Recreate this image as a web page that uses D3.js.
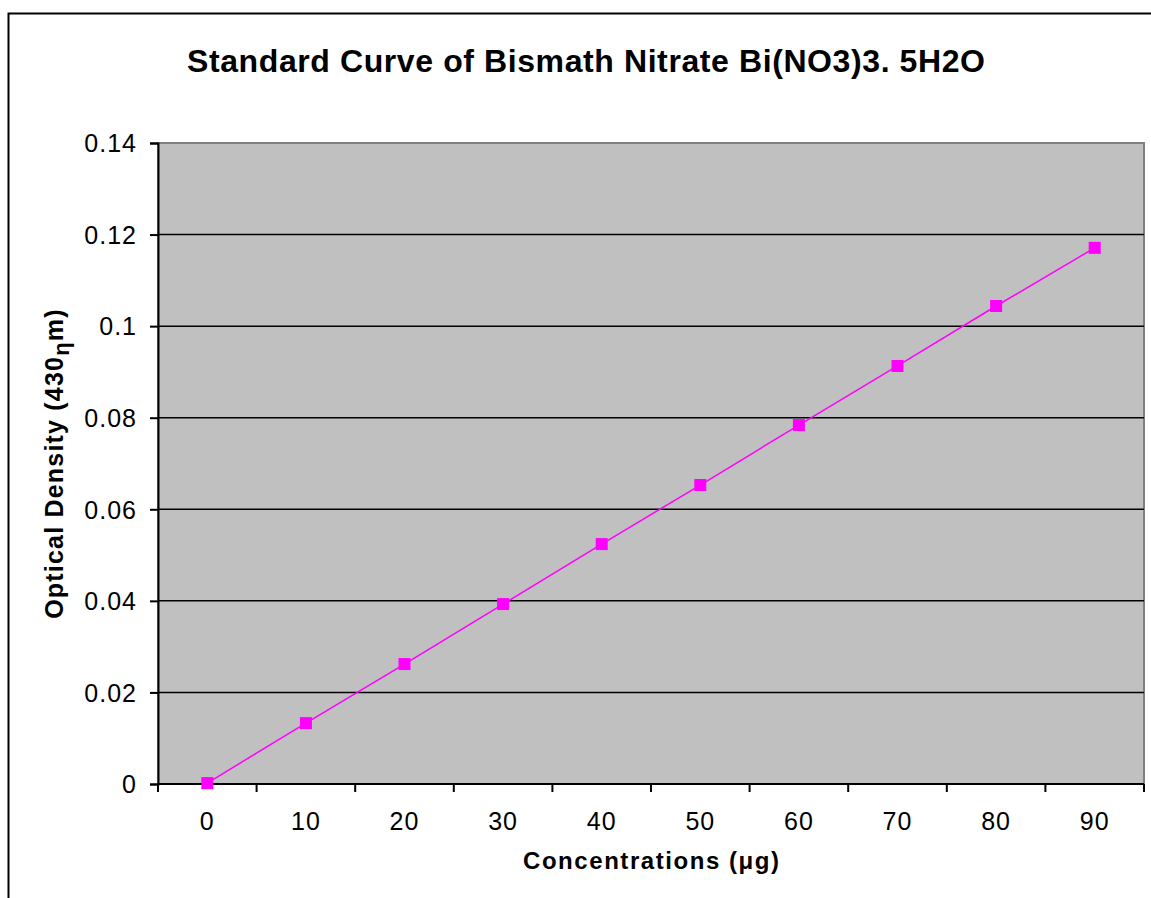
<!DOCTYPE html>
<html>
<head>
<meta charset="utf-8">
<script src="https://cdn.jsdelivr.net/npm/d3@7"></script>
<style>
	body { margin: 0; background: #fff; }
	svg { display: block; font-family: "Liberation Sans", Arial, sans-serif; }
</style>
</head>
<body>
<svg id="chart" width="1151" height="898"></svg>
<script>
var categories = ['0', '10', '20', '30', '40', '50', '60', '70', '80', '90'];
var density = [0.0002, 0.0133, 0.0262, 0.0393, 0.0524, 0.0653, 0.0784, 0.0913, 0.1044, 0.1171];
var yTicks = [0, 0.02, 0.04, 0.06, 0.08, 0.1, 0.12, 0.14];

var plot = {left: 158, top: 143, right: 1144, bottom: 784};
var svg = d3.select('#chart');

//outer chart frame, only left and top show in the picture
svg.append('rect')
	.attr('x', 8.5).attr('y', 13.5)
	.attr('width', 1160).attr('height', 900)
	.style('fill', 'none').style('stroke', '#000').style('stroke-width', 2);

var x = d3.scaleBand().domain(categories).range([plot.left, plot.right]);
var y = d3.scaleLinear().domain([0, 0.14]).range([plot.bottom, plot.top]);

//plot area
svg.append('rect')
	.attr('x', plot.left).attr('y', plot.top)
	.attr('width', plot.right - plot.left).attr('height', plot.bottom - plot.top)
	.style('fill', '#c0c0c0').style('stroke', '#808080').style('stroke-width', 2);

//grid lines
svg.selectAll('.grid').data(yTicks.filter(function(d) { return d > 0 && d < 0.14; }))
	.enter().append('line')
	.attr('class', 'grid')
	.attr('x1', plot.left).attr('x2', plot.right)
	.attr('y1', function(d) { return y(d); }).attr('y2', function(d) { return y(d); })
	.style('stroke', '#000').style('stroke-width', 1.5);

//y axis
var yAxis = svg.append('g')
	.attr('transform', 'translate(' + plot.left + ',0)')
	.call(d3.axisLeft(y).tickValues(yTicks).tickSize(8).tickPadding(13)
		.tickFormat(function(d) { return d === 0 ? '0' : String(+d.toFixed(2)); }));

//x axis, ticks sit between categories
var edges = categories.map(function(c) { return x(c); }).concat([plot.right]);
var xAxis = svg.append('g').attr('transform', 'translate(0,' + plot.bottom + ')');
xAxis.append('line')
	.attr('x1', plot.left).attr('x2', plot.right)
	.style('stroke', '#000').style('stroke-width', 2);
xAxis.selectAll('.xtick').data(edges).enter().append('line')
	.attr('x1', function(d) { return d; }).attr('x2', function(d) { return d; })
	.attr('y1', 0).attr('y2', 8)
	.style('stroke', '#000').style('stroke-width', 2);
xAxis.selectAll('.xlabel').data(categories).enter().append('text')
	.attr('x', function(d) { return x(d) + x.bandwidth() / 2; })
	.attr('y', 46)
	.attr('text-anchor', 'middle')
	.style('font-size', '25px').style('letter-spacing', '1px')
	.text(function(d) { return d; });

yAxis.select('.domain').style('stroke-width', 2);
yAxis.selectAll('.tick line').style('stroke-width', 2);
yAxis.selectAll('.tick text')
	.style('font-size', '25px').style('letter-spacing', '1px')
	.style('font-family', '"Liberation Sans", Arial, sans-serif')
	.attr('dy', '0.35em');

//series line and markers
var pts = categories.map(function(c, i) { return {c: c, v: density[i]}; });
var line = d3.line()
	.x(function(d) { return x(d.c) + x.bandwidth() / 2; })
	.y(function(d) { return y(d.v); });
svg.append('path').datum(pts)
	.attr('d', line)
	.style('fill', 'none').style('stroke', '#ff00ff').style('stroke-width', 1.5);
svg.selectAll('.marker').data(pts).enter().append('rect')
	.attr('class', 'marker')
	.attr('x', function(d) { return x(d.c) + x.bandwidth() / 2 - 6; })
	.attr('y', function(d) { return y(d.v) - 6; })
	.attr('width', 12).attr('height', 12)
	.style('fill', '#ff00ff');

//titles
svg.append('text')
	.attr('x', 586).attr('y', 72)
	.attr('text-anchor', 'middle')
	.attr('textLength', 798)
	.style('font-size', '32px').style('font-weight', 'bold')
	.text('Standard Curve of Bismath Nitrate Bi(NO3)3. 5H2O');

svg.append('text')
	.attr('x', (plot.left + plot.right) / 2).attr('y', 869)
	.attr('text-anchor', 'middle')
	.attr('textLength', 256)
	.style('font-size', '24px').style('font-weight', 'bold')
	.text('Concentrations (\u03bcg)');

var yt = svg.append('text')
	.attr('transform', 'translate(63,' + ((plot.top + plot.bottom) / 2) + ') rotate(-90)')
	.attr('text-anchor', 'middle')
	.style('font-size', '25px').style('font-weight', 'bold').style('letter-spacing', '1.2px');
yt.append('tspan').text('Optical Density (430');
yt.append('tspan').attr('dy', 6).style('font-size', '22px').text('\u03b7');
yt.append('tspan').attr('dy', -6).text('m)');
</script>
</body>
</html>
